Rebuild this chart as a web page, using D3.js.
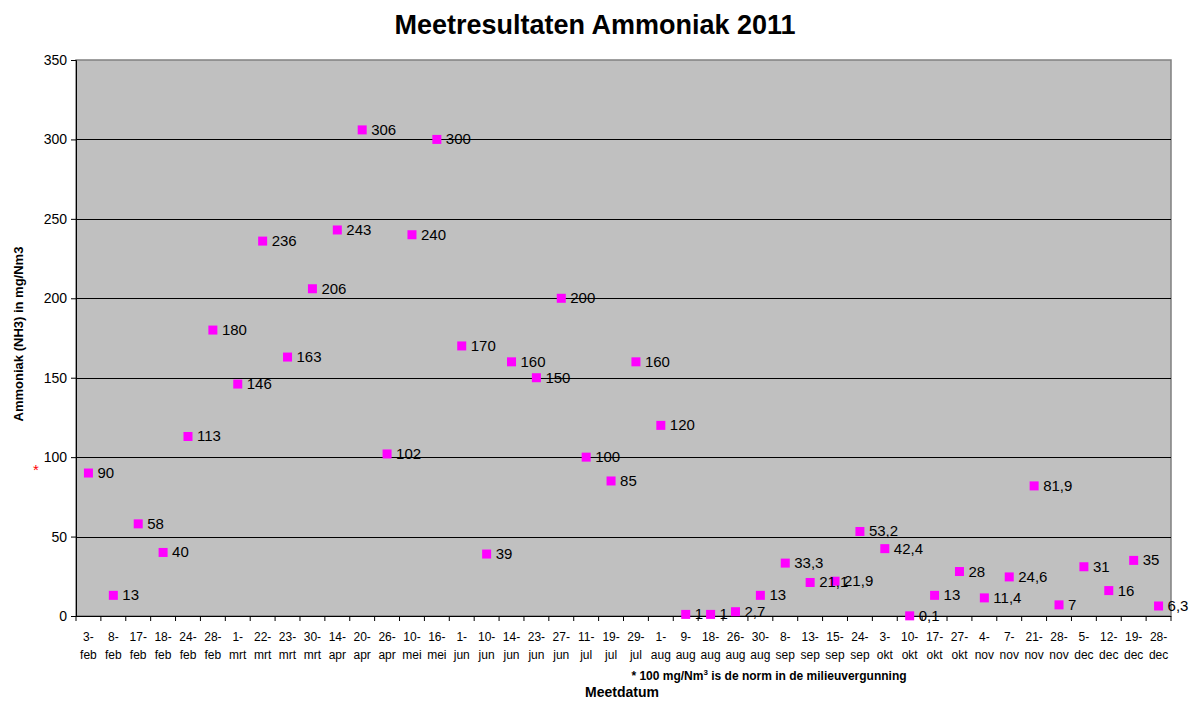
<!DOCTYPE html>
<html>
<head>
<meta charset="utf-8">
<script src="https://cdn.jsdelivr.net/npm/d3@7"></script>
<style>
  body { margin: 0; background: #fff; }
  text { font-family: Arial, "Liberation Sans", sans-serif; }
</style>
</head>
<body>
<div id="chart"></div>
<script>
// Measurement dates (categories)
const dates = [
    "3-feb", "8-feb", "17-feb", "18-feb", "24-feb", "28-feb",
    "1-mrt", "22-mrt", "23-mrt", "30-mrt",
    "14-apr", "20-apr", "26-apr",
    "10-mei", "16-mei",
    "1-jun", "10-jun", "14-jun", "23-jun", "27-jun",
    "11-jul", "19-jul", "29-jul",
    "1-aug", "9-aug", "18-aug", "26-aug", "30-aug",
    "8-sep", "13-sep", "15-sep", "24-sep",
    "3-okt", "10-okt", "17-okt", "27-okt",
    "4-nov", "7-nov", "21-nov", "28-nov",
    "5-dec", "12-dec", "19-dec", "28-dec"
];

// Ammonia values in mg/Nm3
const values = [
    90, 13, 58, 40, 113, 180,
    146, 236, 163, 206,
    243, 306, 102,
    240, 300,
    170, 39, 160, 150, 200,
    100, 85, 160,
    120, 1, 1, 2.7, 13,
    33.3, 21.1, 21.9, 53.2,
    42.4, 0.1, 13, 28,
    11.4, 24.6, 81.9, 7,
    31, 16, 35, 6.3
];

const yTicks = [0, 50, 100, 150, 200, 250, 300, 350];

const width = 1197,
    height = 701;
const plot = { left: 76, right: 1171, top: 60, bottom: 616 };

const svg = d3.select("#chart")
    .append("svg")
    .attr("width", width)
    .attr("height", height);

const x = d3.scaleBand()
    .domain(dates)
    .range([plot.left, plot.right]);

const y = d3.scaleLinear()
    .domain([0, 350])
    .range([plot.bottom, plot.top]);

// Plot background
svg.append("rect")
    .attr("x", plot.left)
    .attr("y", plot.top)
    .attr("width", plot.right - plot.left)
    .attr("height", plot.bottom - plot.top)
    .attr("fill", "#c0c0c0")
    .attr("stroke", "#808080")
    .attr("stroke-width", 1.5);

// Gridlines
svg.append("g")
    .selectAll("line")
    .data(yTicks.slice(1, -1))
    .join("line")
    .attr("x1", plot.left)
    .attr("x2", plot.right)
    .attr("y1", d => Math.round(y(d)) + 0.5)
    .attr("y2", d => Math.round(y(d)) + 0.5)
    .attr("stroke", "#000")
    .attr("stroke-width", 1);

// Y axis
const yAxis = svg.append("g")
    .attr("transform", `translate(${plot.left},0)`)
    .call(d3.axisLeft(y).tickValues(yTicks).tickSize(5).tickPadding(4));
yAxis.select(".domain").attr("stroke", "#000");
yAxis.selectAll("text")
    .attr("font-size", "14px")
    .attr("fill", "#000")
    .attr("font-family", "Arial, 'Liberation Sans', sans-serif");

// X axis line and ticks between categories
const xAxis = svg.append("g");
xAxis.append("line")
    .attr("x1", plot.left)
    .attr("x2", plot.right)
    .attr("y1", plot.bottom + 0.5)
    .attr("y2", plot.bottom + 0.5)
    .attr("stroke", "#000");
xAxis.selectAll("line.tick")
    .data(dates.concat([null]))
    .join("line")
    .attr("class", "tick")
    .attr("x1", (d, i) => plot.left + i * x.step())
    .attr("x2", (d, i) => plot.left + i * x.step())
    .attr("y1", plot.bottom)
    .attr("y2", plot.bottom + 5)
    .attr("stroke", "#000");

// Two-line date labels (narrow font like the original)
const xLabels = xAxis.selectAll("text.xlab")
    .data(dates)
    .join("text")
    .attr("class", "xlab")
    .attr("text-anchor", "middle")
    .attr("font-size", "12px")
    .attr("font-family", "'Liberation Sans Narrow', 'Arial Narrow', Arial, sans-serif")
    .attr("fill", "#000");
xLabels.append("tspan")
    .attr("x", d => x(d) + x.bandwidth() / 2)
    .attr("y", 641)
    .text(d => d.split("-")[0] + "-");
xLabels.append("tspan")
    .attr("x", d => x(d) + x.bandwidth() / 2)
    .attr("y", 659)
    .text(d => d.split("-")[1]);

// Data points
const points = svg.append("g");
points.selectAll("rect")
    .data(values)
    .join("rect")
    .attr("x", (d, i) => x(dates[i]) + x.bandwidth() / 2 - 4.5)
    .attr("y", d => y(d) - 4.5)
    .attr("width", 9)
    .attr("height", 9)
    .attr("fill", "#ff00ff");

points.selectAll("text")
    .data(values)
    .join("text")
    .attr("x", (d, i) => x(dates[i]) + x.bandwidth() / 2 + 9)
    .attr("y", d => y(d) + 5)
    .attr("font-size", "15px")
    .attr("fill", "#000")
    .text(d => String(d).replace(".", ","));

// Title
svg.append("text")
    .attr("x", 595)
    .attr("y", 34)
    .attr("text-anchor", "middle")
    .attr("font-size", "27px")
    .attr("font-weight", "bold")
    .text("Meetresultaten Ammoniak 2011");

// Y axis title
svg.append("text")
    .attr("transform", `translate(23,${(plot.top + plot.bottom) / 2 - 4}) rotate(-90)`)
    .attr("text-anchor", "middle")
    .attr("font-size", "13px")
    .attr("font-weight", "bold")
    .text("Ammoniak (NH3) in mg/Nm3");

// Red asterisk marking the norm
svg.append("text")
    .attr("x", 36)
    .attr("y", 475)
    .attr("text-anchor", "middle")
    .attr("font-size", "15px")
    .attr("fill", "#ff0000")
    .text("*");

// Footnote
const note = svg.append("text")
    .attr("x", 769)
    .attr("y", 680)
    .attr("text-anchor", "middle")
    .attr("font-size", "12px")
    .attr("font-weight", "bold");
note.append("tspan").text("* 100 mg/Nm");
note.append("tspan").attr("dy", -5).attr("font-size", "8px").text("3");
note.append("tspan").attr("dy", 5).text(" is de norm in de milieuvergunning");

// X axis title
svg.append("text")
    .attr("x", 622)
    .attr("y", 697)
    .attr("text-anchor", "middle")
    .attr("font-size", "14px")
    .attr("font-weight", "bold")
    .text("Meetdatum");
</script>
</body>
</html>
